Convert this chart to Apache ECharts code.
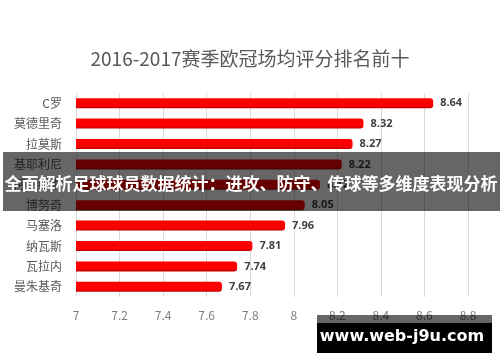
<!DOCTYPE html>
<html>
<head>
<meta charset="utf-8">
<script src="https://cdn.jsdelivr.net/npm/echarts@6/dist/echarts.min.js"></script>
<style>
html,body{margin:0;padding:0;background:#fff;}
#chart{width:500px;height:362px;}
</style>
</head>
<body>
<div id="chart"></div>
<script>
var titleText = '2016-2017赛季欧冠场均评分排名前十';
var players = ['C罗', '莫德里奇', '拉莫斯', '基耶利尼', '阿尔维斯', '博努奇', '马塞洛', '纳瓦斯', '瓦拉内', '曼朱基奇'];
var ratings = [8.64, 8.32, 8.27, 8.22, 8.12, 8.05, 7.96, 7.81, 7.74, 7.67];
var axisMin = 7;
var axisMax = 8.8;
var axisStep = 0.2;
var bannerText = '全面解析足球球员数据统计：进攻、防守、传球等多维度表现分析';
var watermarkText = 'www.web-j9u.com';

var chart = echarts.init(document.getElementById('chart'), null, {renderer: 'canvas'});
var font = '"Noto Sans CJK SC", "Noto Sans", sans-serif';
chart.setOption({
  animation: false,
  backgroundColor: '#ffffff',
  title: {
    text: titleText,
    left: 'center',
    top: 44,
    textStyle: {fontFamily: font, fontSize: 19, fontWeight: 'normal', color: '#595959'}
  },
  grid: {left: 76, right: 32, top: 93, bottom: 65, containLabel: false},
  xAxis: {
    type: 'value',
    min: axisMin,
    max: axisMax,
    interval: axisStep,
    axisLine: {show: false},
    axisTick: {show: false},
    axisLabel: {margin: 12, color: '#7f7f7f', fontSize: 12, fontFamily: font},
    splitLine: {show: true, lineStyle: {color: '#d9d9d9', width: 1}}
  },
  yAxis: {
    type: 'category',
    inverse: true,
    data: players,
    axisLine: {show: false},
    axisTick: {show: false},
    axisLabel: {margin: 14, color: '#595959', fontSize: 12, fontFamily: font}
  },
  series: [{
    type: 'bar',
    data: ratings,
    barWidth: 10,
    itemStyle: {
      borderRadius: [0, 3, 3, 0],
      color: {
        type: 'linear', x: 0, y: 0, x2: 0, y2: 1,
        colorStops: [
          {offset: 0, color: '#ff0000'},
          {offset: 0.75, color: '#ff0000'},
          {offset: 1, color: '#b80000'}
        ]
      }
    },
    label: {
      show: true,
      position: 'right',
      distance: 7,
      color: '#404040',
      fontWeight: 'bold',
      fontSize: 11,
      fontFamily: '"Open Sans", "Noto Sans", sans-serif',
      formatter: function (p) { return p.value.toFixed(2); }
    }
  }],
  graphic: [
    {
      type: 'rect',
      left: 3, top: 152,
      shape: {width: 497, height: 59},
      style: {fill: 'rgba(0,0,0,0.6)'},
      z: 100
    },
    {
      type: 'text',
      x: 251, y: 184,
      style: {
        text: bannerText,
        fill: '#ffffff',
        font: 'bold 17px "Noto Sans CJK SC", sans-serif',
        align: 'center',
        verticalAlign: 'middle'
      },
      z: 101
    },
    {
      type: 'rect',
      left: 317, top: 315,
      shape: {width: 175, height: 8},
      style: {fill: 'rgba(0,0,0,0.6)'},
      z: 100
    },
    {
      type: 'rect',
      left: 317, top: 323,
      shape: {width: 175, height: 30},
      style: {fill: '#000000'},
      z: 100
    },
    {
      type: 'text',
      x: 402, y: 337,
      style: {
        text: watermarkText,
        fill: '#ffffff',
        font: 'bold 16px "DejaVu Sans", sans-serif',
        align: 'center',
        verticalAlign: 'middle'
      },
      z: 101
    }
  ]
});
</script>
</body>
</html>
